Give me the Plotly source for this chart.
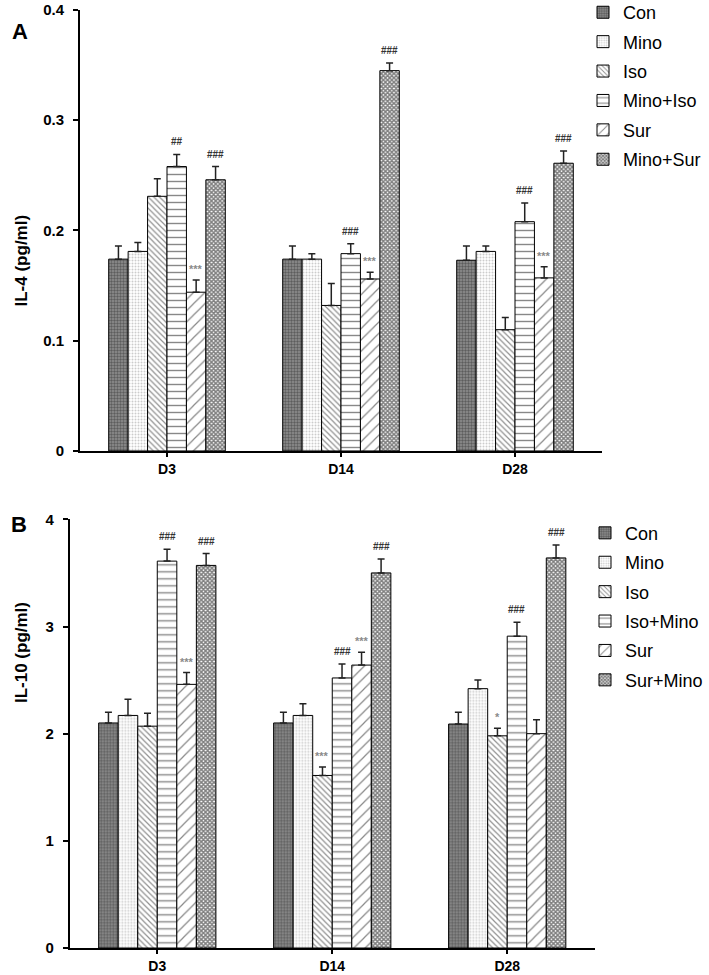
import plotly.graph_objects as go

# categorias e grupos
days = ["D3", "D14", "D28"]
groups_a = ["Con", "Mino", "Iso", "Mino+Iso", "Sur", "Mino+Sur"]
groups_b = ["Con", "Mino", "Iso", "Iso+Mino", "Sur", "Sur+Mino"]

# painel A - IL-4 (pg/ml), uma lista por grupo (D3, D14, D28)
il4_con = [0.174, 0.174, 0.173]
il4_mino = [0.181, 0.174, 0.181]
il4_iso = [0.231, 0.132, 0.110]
il4_mino_iso = [0.258, 0.179, 0.208]
il4_sur = [0.144, 0.156, 0.157]
il4_mino_sur = [0.246, 0.345, 0.261]

il4_err_con = [0.012, 0.012, 0.013]
il4_err_mino = [0.008, 0.005, 0.005]
il4_err_iso = [0.016, 0.020, 0.011]
il4_err_mino_iso = [0.011, 0.009, 0.017]
il4_err_sur = [0.011, 0.006, 0.010]
il4_err_mino_sur = [0.012, 0.007, 0.011]

# painel B - IL-10 (pg/ml)
il10_con = [2.10, 2.10, 2.09]
il10_mino = [2.17, 2.17, 2.42]
il10_iso = [2.07, 1.61, 1.98]
il10_iso_mino = [3.61, 2.52, 2.91]
il10_sur = [2.46, 2.64, 2.00]
il10_sur_mino = [3.57, 3.50, 3.64]

il10_err_con = [0.10, 0.10, 0.11]
il10_err_mino = [0.15, 0.11, 0.08]
il10_err_iso = [0.12, 0.08, 0.07]
il10_err_iso_mino = [0.11, 0.13, 0.13]
il10_err_sur = [0.11, 0.12, 0.13]
il10_err_sur_mino = [0.11, 0.13, 0.12]

# marcas de significância (grupo, dia, texto)
sig_a = [("Mino+Iso", 0, "##"), ("Sur", 0, "***"), ("Mino+Sur", 0, "###"),
         ("Mino+Iso", 1, "###"), ("Sur", 1, "***"), ("Mino+Sur", 1, "###"),
         ("Mino+Iso", 2, "###"), ("Sur", 2, "***"), ("Mino+Sur", 2, "###")]
sig_b = [("Iso+Mino", 0, "###"), ("Sur", 0, "***"), ("Sur+Mino", 0, "###"),
         ("Iso", 1, "***"), ("Iso+Mino", 1, "###"), ("Sur", 1, "***"), ("Sur+Mino", 1, "###"),
         ("Iso", 2, "*"), ("Iso+Mino", 2, "###"), ("Sur+Mino", 2, "###")]

vals_a = [il4_con, il4_mino, il4_iso, il4_mino_iso, il4_sur, il4_mino_sur]
errs_a = [il4_err_con, il4_err_mino, il4_err_iso, il4_err_mino_iso, il4_err_sur, il4_err_mino_sur]
vals_b = [il10_con, il10_mino, il10_iso, il10_iso_mino, il10_sur, il10_sur_mino]
errs_b = [il10_err_con, il10_err_mino, il10_err_iso, il10_err_iso_mino, il10_err_sur, il10_err_sur_mino]

# padrões de preenchimento (um por grupo)
patterns = [
    dict(shape=".", fgcolor="#2a2a2a", bgcolor="#909090", size=3, solidity=0.5),
    dict(shape=".", fgcolor="#9a9a9a", bgcolor="white", size=3, solidity=0.35),
    dict(shape="\\", fgcolor="#222222", bgcolor="white", size=4, solidity=0.3),
    dict(shape="-", fgcolor="#111111", bgcolor="white", size=7, solidity=0.2),
    dict(shape="/", fgcolor="#111111", bgcolor="white", size=8, solidity=0.15),
    dict(shape="x", fgcolor="#000000", bgcolor="white", size=3, solidity=0.75),
]

BARGAP = 0.33
bar_w = (1 - BARGAP) / 6

fig = go.Figure()

def add_panel(names, vals, errs, xa, ya, legend):
    for i, name in enumerate(names):
        fig.add_trace(go.Bar(
            x=days, y=vals[i], name=name,
            xaxis=xa, yaxis=ya, legend=legend, legendgroup=legend + name,
            marker=dict(color="white", line=dict(color="black", width=1), pattern=patterns[i]),
            error_y=dict(type="data", array=errs[i], arrayminus=[0] * 3, symmetric=False,
                         color="#222222", thickness=1.5, width=3.5),
        ))

add_panel(groups_a, vals_a, errs_a, "x", "y", "legend")
add_panel(groups_b, vals_b, errs_b, "x2", "y2", "legend2")

def add_sig(sigs, names, vals, errs, xa, ya):
    for g, d, txt in sigs:
        i = names.index(g)
        star = "*" in txt
        fig.add_annotation(
            x=d + (i - 2.5) * bar_w, y=vals[i][d] + errs[i][d],
            xref=xa, yref=ya, text=txt, showarrow=False,
            yanchor="bottom", yshift=3 if star else 5,
            font=dict(size=11 if star else 10, color="#8a8a8a" if star else "#333333",
                      family="Arial", weight="bold"),
        )

add_sig(sig_a, groups_a, vals_a, errs_a, "x", "y")
add_sig(sig_b, groups_b, vals_b, errs_b, "x2", "y2")

axis_style = dict(showline=True, linewidth=2, linecolor="black", showgrid=False, zeroline=False,
                  ticks="outside", tickcolor="black", tickwidth=1.5)
x_font = dict(family="Arial", size=14, color="black", weight="bold")
y_font = dict(family="Arial", size=15, color="black", weight="bold")

fig.update_layout(
    width=709, height=975,
    margin=dict(l=0, r=0, t=10, b=27, autoexpand=False),
    paper_bgcolor="white", plot_bgcolor="white",
    barmode="group", bargap=BARGAP, bargroupgap=0,
    font=dict(family="Arial", color="black"),
    xaxis=dict(domain=[80 / 709, 602 / 709], range=[-0.5, 2.5], anchor="y", ticklen=4,
               tickfont=x_font, **axis_style),
    yaxis=dict(domain=[0.5299, 1.0], range=[0, 0.4], anchor="x", tickvals=[0, 0.1, 0.2, 0.3, 0.4],
               ticktext=["0", "0.1", "0.2", "0.3", "0.4"], ticklen=5, ticklabelstandoff=6,
               tickfont=y_font, **axis_style),
    xaxis2=dict(domain=[69.8 / 709, 594.7 / 709], range=[-0.5, 2.5], anchor="y2", ticklen=4,
                tickfont=x_font, **axis_style),
    yaxis2=dict(domain=[0, 0.457], range=[0, 4], anchor="x2", tickvals=[0, 1, 2, 3, 4],
                ticklen=5, ticklabelstandoff=6, tickfont=y_font, **axis_style),
    legend=dict(x=583 / 709, y=1.017, xanchor="left", yanchor="top", bgcolor="rgba(0,0,0,0)",
                font=dict(family="Arial", size=18, color="black"), tracegroupgap=3, itemclick=False),
    legend2=dict(x=585 / 709, y=0.462, xanchor="left", yanchor="top", bgcolor="rgba(0,0,0,0)",
                 font=dict(family="Arial", size=18, color="black"), tracegroupgap=3, itemclick=False),
)

# títulos dos eixos e letras dos painéis
fig.add_annotation(x=10 / 709, y=0.7836, xref="paper", yref="paper", text="IL-4 (pg/ml)",
                   textangle=-90, showarrow=False, font=dict(size=17, weight="bold"))
fig.add_annotation(x=10 / 709, y=0.259, xref="paper", yref="paper", text="IL-10 (pg/ml)",
                   textangle=-90, showarrow=False, font=dict(size=17, weight="bold"))
fig.add_annotation(x=10 / 709, y=0.9925, xref="paper", yref="paper", text="A",
                   showarrow=False, font=dict(size=22, weight="bold"))
fig.add_annotation(x=9 / 709, y=0.451, xref="paper", yref="paper", text="B",
                   showarrow=False, font=dict(size=22, weight="bold"))

# a página tem margem padrão de 8px no body; zera para alinhar com a referência
fig.write_html("out.html", config={"displayModeBar": False},
               post_script="document.body.style.margin='0';")
